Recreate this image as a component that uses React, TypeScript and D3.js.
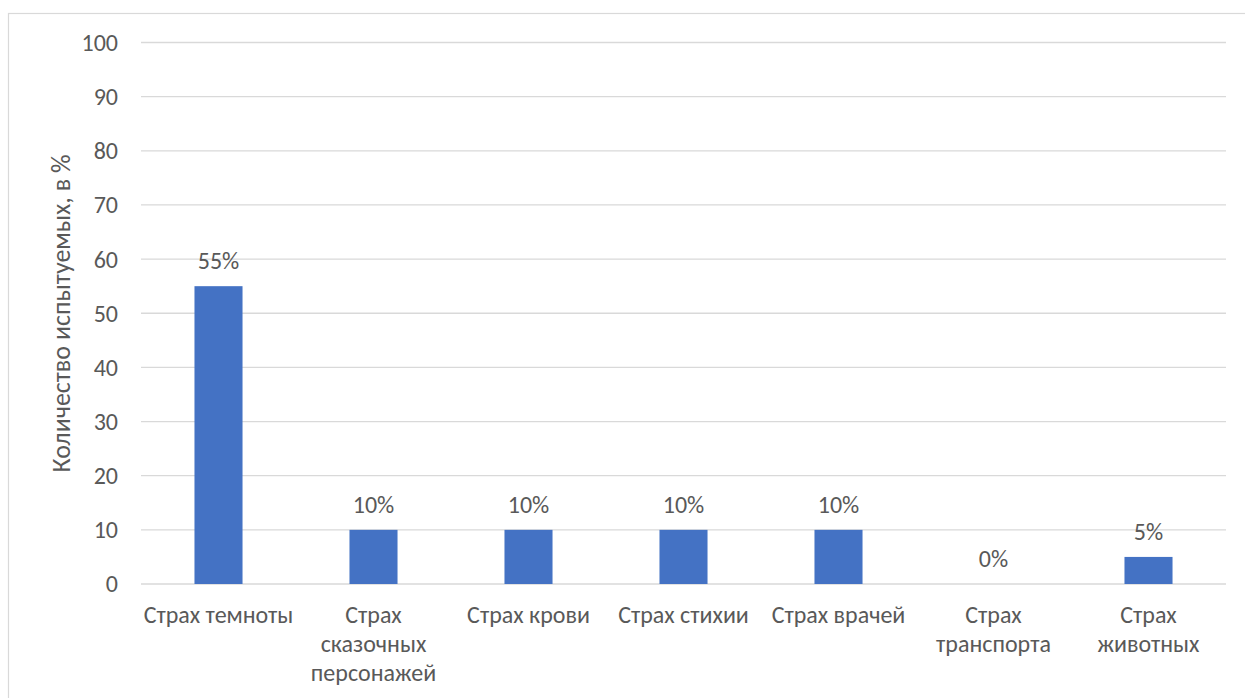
import React from "react";
import * as d3 from "d3";

const categories: string[][] = [
  ["Страх темноты"],
  ["Страх", "сказочных", "персонажей"],
  ["Страх крови"],
  ["Страх стихии"],
  ["Страх врачей"],
  ["Страх", "транспорта"],
  ["Страх", "животных"],
];
const values: number[] = [55, 10, 10, 10, 10, 0, 5];
const yTicks: number[] = [0, 10, 20, 30, 40, 50, 60, 70, 80, 90, 100];
const yTitle = "Количество испытуемых, в %";

const W = 1245;
const H = 698;
const plot = { left: 141, right: 1226, top: 42.5, bottom: 584 };
const FONT = "Carlito, Calibri, Lato, 'Open Sans', sans-serif";
const TEXT = "#595959";
const GRID = "#d9d9d9";
const BAR = "#4472c4";
const FS = 24;

export default function App() {
  const x = d3
    .scaleBand<number>()
    .domain(values.map((_, i) => i))
    .range([plot.left, plot.right])
    .paddingInner(0.69)
    .paddingOuter(0.345);
  const y = d3.scaleLinear().domain([0, 100]).range([plot.bottom, plot.top]);
  const step = x.step();

  return (
    <svg
      width={W}
      height={H}
      style={{ position: "absolute", left: 0, top: 0, background: "#fff" }}
      fontFamily={FONT}
    >
      <rect x={8.5} y={13.5} width={W} height={H} fill="#fff" stroke={GRID} strokeWidth={1.2} />
      {yTicks.map((t) => (
        <g key={t}>
          <line x1={plot.left} x2={plot.right} y1={y(t)} y2={y(t)} stroke={GRID} strokeWidth={1.3} />
          <text x={118} y={y(t)} dy="0.35em" textAnchor="end" fontSize={FS} fill={TEXT}>
            {t}
          </text>
        </g>
      ))}
      {values.map((v, i) => (
        <g key={i}>
          {v > 0 && (
            <rect x={x(i)} y={y(v)} width={x.bandwidth()} height={y(0) - y(v)} fill={BAR} />
          )}
          <text
            x={(x(i) as number) + x.bandwidth() / 2}
            y={y(v) - 17}
            textAnchor="middle"
            fontSize={FS}
            fill={TEXT}
          >
            {v}%
          </text>
        </g>
      ))}
      {categories.map((lines, i) => (
        <text
          key={i}
          x={plot.left + step * (i + 0.5)}
          y={623}
          textAnchor="middle"
          fontSize={FS}
          fill={TEXT}
        >
          {lines.map((l, j) => (
            <tspan key={j} x={plot.left + step * (i + 0.5)} dy={j === 0 ? 0 : 29}>
              {l}
            </tspan>
          ))}
        </text>
      ))}
      <text
        transform={`translate(70, 313.5) rotate(-90)`}
        textAnchor="middle"
        fontSize={26}
        fill={TEXT}
      >
        {yTitle}
      </text>
    </svg>
  );
}
